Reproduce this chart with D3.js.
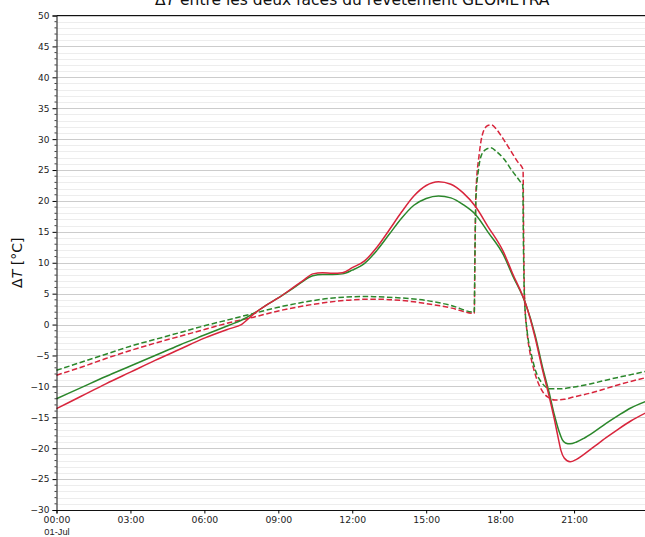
<!DOCTYPE html>
<html>
<head>
<meta charset="utf-8">
<script src="https://cdn.jsdelivr.net/npm/d3@7"></script>
<style>
  html, body { margin: 0; padding: 0; background: #fff; }
  svg { display: block; font-family: "DejaVu Sans", sans-serif; }
</style>
</head>
<body>
<svg id="chart" width="645" height="537"></svg>
<script>
// Temperature difference between the two faces of the coating, 1 July (hours of day, °C)
const redSolid = [
  [0,-13.6],[1,-11.6],[2,-9.6],[3,-7.7],[4,-5.8],[5,-4.0],[6,-2.2],[7,-0.7],[7.5,0.0],
  [8,1.7],[8.5,3.1],[9,4.3],[9.5,5.7],[10,7.1],[10.4,8.2],[10.8,8.4],[11.2,8.3],[11.6,8.4],
  [12,9.2],[12.5,10.3],[13,12.5],[13.5,15.3],[14,18.2],[14.5,20.8],[15,22.5],[15.5,23.1],
  [16,22.7],[16.5,21.3],[17,19.1],[17.5,15.9],[18.13,11.8],[18.5,8.3],[19.05,3.2],[19.42,-2.1],
  [19.7,-7.0],[20.0,-11.8],[20.2,-15.3],[20.36,-18.4],[20.47,-20.4],[20.6,-21.6],[20.84,-22.2],
  [21.1,-21.8],[21.4,-21.0],[21.8,-19.8],[22.3,-18.3],[22.8,-16.9],[23.3,-15.6],[24,-14.1]
];
const greenSolid = [
  [0,-12.0],[1,-10.2],[2,-8.4],[3,-6.7],[4,-5.0],[5,-3.3],[6,-1.7],[7,-0.1],[7.5,0.7],
  [8,1.8],[8.5,3.1],[9,4.3],[9.5,5.6],[10,7.0],[10.4,7.9],[10.8,8.1],[11.2,8.1],[11.6,8.2],
  [12,8.8],[12.5,9.9],[13,12.0],[13.5,14.6],[14,17.2],[14.5,19.3],[15,20.4],[15.5,20.8],
  [16,20.5],[16.5,19.4],[17,17.8],[17.5,15.0],[18.13,11.3],[18.5,8.0],[19.05,3.2],[19.42,-1.7],
  [19.72,-6.9],[20.0,-11.2],[20.2,-14.6],[20.4,-17.4],[20.52,-18.6],[20.65,-19.15],[20.84,-19.3],
  [21.1,-19.0],[21.4,-18.4],[21.8,-17.4],[22.3,-16.0],[22.8,-14.7],[23.3,-13.5],[24,-12.3]
];
const redDashed = [
  [0,-8.2],[1,-6.9],[2,-5.5],[3,-4.2],[4,-3.0],[5,-1.9],[6,-0.8],[7,0.3],[8,1.2],[9,2.2],
  [10,3.0],[11,3.6],[12,4.0],[12.6,4.1],[13,4.1],[14,3.9],[15,3.4],[16,2.7],[16.95,1.8],
  [16.98,12.0],[17.02,21.5],[17.15,27.5],[17.3,31.0],[17.5,32.2],[17.65,32.3],[17.85,31.6],
  [18.1,30.2],[18.4,28.3],[18.7,26.4],[18.93,25.1],[18.955,14.0],[18.99,4.5],[19.1,-1.5],
  [19.2,-4.3],[19.35,-7.0],[19.55,-9.5],[19.75,-11.0],[19.96,-11.8],[20.23,-12.2],[20.6,-12.1],
  [21,-11.7],[21.65,-11.1],[22.5,-10.1],[23.3,-9.2],[24,-8.5]
];
const greenDashed = [
  [0,-7.4],[1,-6.1],[2,-4.8],[3,-3.5],[4,-2.4],[5,-1.3],[6,-0.2],[7,0.8],[8,1.8],[9,2.8],
  [10,3.6],[11,4.2],[12,4.5],[12.6,4.55],[13,4.5],[14,4.3],[15,3.9],[16,3.1],[16.95,2.0],
  [16.98,12.0],[17.02,20.5],[17.12,25.0],[17.25,27.5],[17.45,28.4],[17.62,28.6],[17.85,28.0],
  [18.13,26.9],[18.5,24.8],[18.8,23.2],[18.92,22.5],[18.945,13.0],[18.985,4.5],[19.1,-1.2],
  [19.25,-4.5],[19.45,-7.6],[19.69,-9.4],[19.85,-10.1],[20.03,-10.4],[20.4,-10.4],[21,-10.1],
  [21.65,-9.6],[22.5,-8.8],[23.3,-8.1],[24,-7.5]
];
const yTicks = [-30,-25,-20,-15,-10,-5,0,5,10,15,20,25,30,35,40,45,50];
const xTickHours = [0,3,6,9,12,15,18,21];
const dayLabel = "01-Jul";
const titleText = "entre les deux faces du revêtement GEOMETRA";

const RED = "#d8253c", GREEN = "#2b872b";
const series = [
  { data: redDashed,   color: RED,   dash: "5.5,2.6" },
  { data: greenDashed, color: GREEN, dash: "5.5,2.6" },
  { data: greenSolid,  color: GREEN, dash: null },
  { data: redSolid,    color: RED,   dash: null }
];

const svg = d3.select("#chart");
const plotLeft = 56.5, plotRight = 648, plotTop = 15.5, plotBottom = 510;
const day0 = new Date(2021, 6, 1, 0, 0);
const toDate = h => new Date(day0.getTime() + h * 3600e3);

const x = d3.scaleTime().domain([day0, toDate(24)]).range([plotLeft, plotRight]);
const y = d3.scaleLinear().domain([-30, 50]).range([plotBottom, plotTop]);

// horizontal grid: minor every 1, major every 5
const minor = d3.range(-30, 51, 1).filter(v => v % 5 !== 0);
svg.append("g").selectAll("line").data(minor).join("line")
  .attr("x1", plotLeft).attr("x2", plotRight)
  .attr("y1", d => Math.round(y(d)) + 0.5).attr("y2", d => Math.round(y(d)) + 0.5)
  .attr("stroke", "#ededed").attr("stroke-width", 1);
svg.append("g").selectAll("line").data(yTicks).join("line")
  .attr("x1", plotLeft).attr("x2", plotRight)
  .attr("y1", d => Math.round(y(d)) + 0.5).attr("y2", d => Math.round(y(d)) + 0.5)
  .attr("stroke", "#cccccc").attr("stroke-width", 1);

// curves
const line = d3.line()
  .x(d => x(toDate(d[0])))
  .y(d => y(d[1]))
  .curve(d3.curveMonotoneX);
const plot = svg.append("g");
series.forEach(s => {
  plot.append("path")
    .datum(s.data)
    .attr("d", line)
    .attr("fill", "none")
    .attr("stroke", s.color)
    .attr("stroke-width", 1.5)
    .attr("stroke-dasharray", s.dash);
});

// top spine
svg.append("line").attr("x1", plotLeft).attr("x2", plotRight)
  .attr("y1", plotTop).attr("y2", plotTop)
  .attr("stroke", "#111").attr("stroke-width", 1);

// y axis
const yAxis = svg.append("g").attr("transform", `translate(${plotLeft},0)`)
  .call(d3.axisLeft(y).tickValues(yTicks).tickSize(4).tickPadding(3)
    .tickFormat(d => d < 0 ? "\u2212" + Math.abs(d) : String(d)));
yAxis.select(".domain").attr("stroke", "#111");
yAxis.selectAll("text").attr("font-size", 9).attr("fill", "#222")
  .attr("font-family", "DejaVu Sans");
yAxis.append("g").selectAll("line").data(minor).join("line")
  .attr("x1", -2).attr("x2", 0)
  .attr("y1", d => y(d)).attr("y2", d => y(d))
  .attr("stroke", "#111").attr("stroke-width", 0.8);

// x axis
const xAxis = svg.append("g").attr("transform", `translate(0,${plotBottom})`)
  .call(d3.axisBottom(x).tickValues(xTickHours.map(toDate)).tickSize(3.5).tickPadding(3)
    .tickFormat(d3.timeFormat("%H:%M")));
xAxis.select(".domain").attr("stroke", "#111");
xAxis.selectAll("text").attr("font-size", 9.3).attr("fill", "#222")
  .attr("font-family", "DejaVu Sans");
xAxis.selectAll(".tick").filter(d => d.getTime() === day0.getTime())
  .append("text").attr("y", 18).attr("dy", "0.71em")
  .attr("fill", "#222").attr("font-size", 9.3).attr("text-anchor", "middle")
  .text(dayLabel);

// y label
const yl = svg.append("text")
  .attr("transform", `translate(22,${(plotTop + plotBottom) / 2}) rotate(-90)`)
  .attr("text-anchor", "middle").attr("font-size", 14).attr("fill", "#111");
yl.append("tspan").text("\u0394");
yl.append("tspan").attr("font-style", "italic").text("T");
yl.append("tspan").text(" [°C]");

// title
const tt = svg.append("text")
  .attr("x", (plotLeft + plotRight) / 2).attr("y", 5)
  .attr("text-anchor", "middle").attr("font-size", 15.5).attr("fill", "#111");
tt.append("tspan").text("\u0394");
tt.append("tspan").attr("font-style", "italic").text("T");
tt.append("tspan").text(" " + titleText);
</script>
</body>
</html>
